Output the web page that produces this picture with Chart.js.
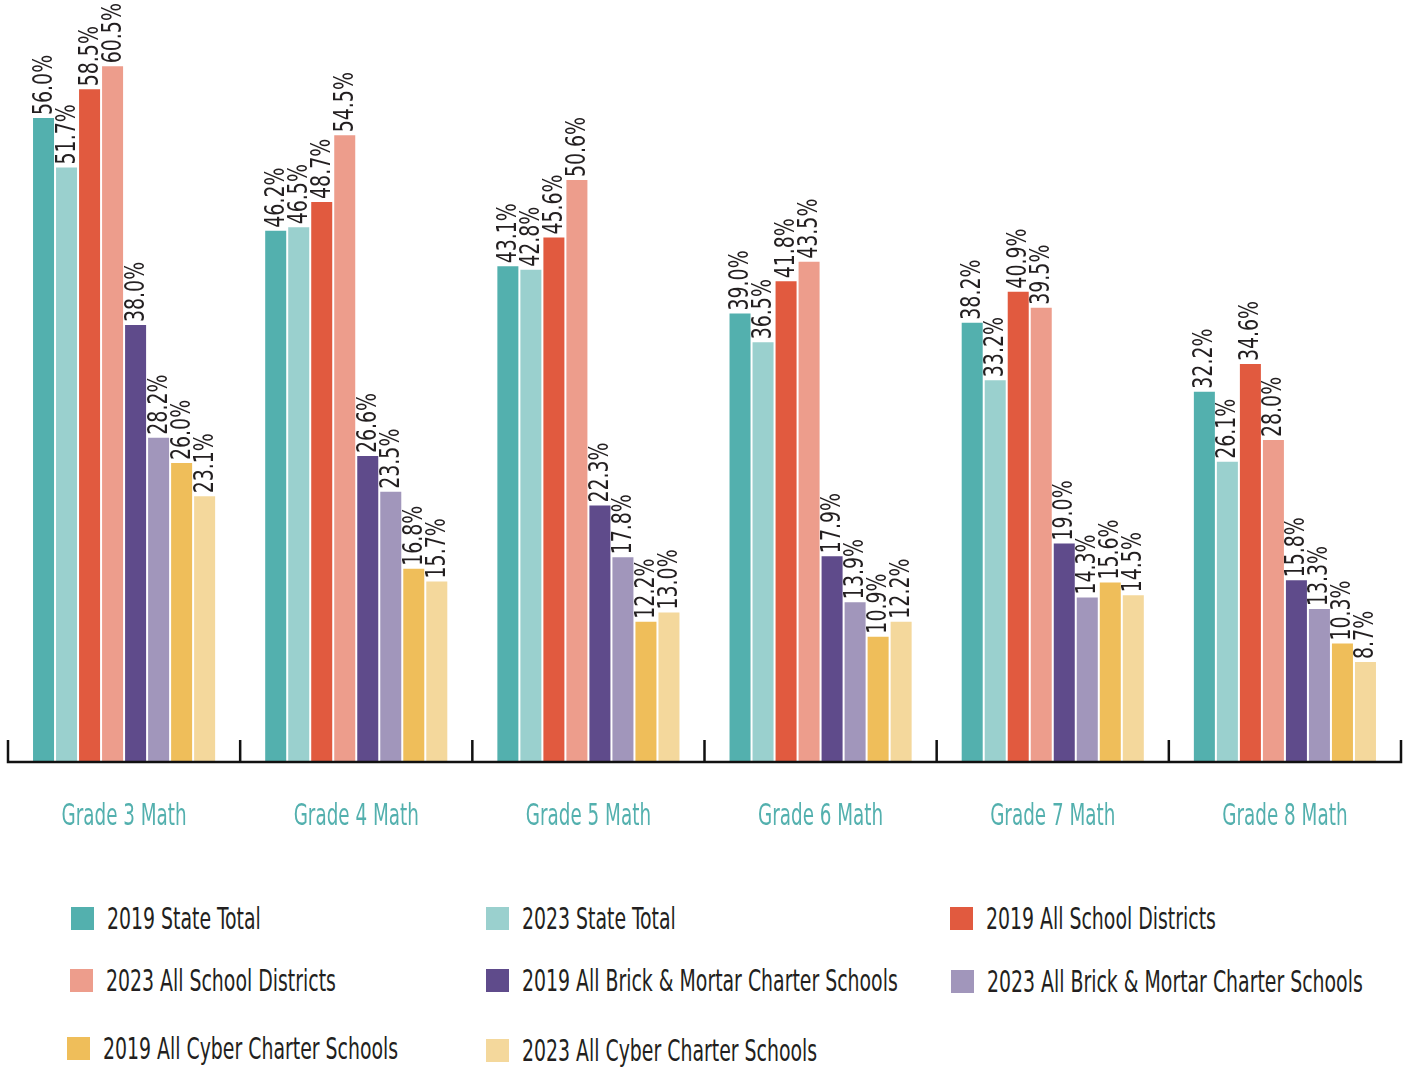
<!DOCTYPE html>
<html>
<head>
<meta charset="utf-8">
<script src="https://cdn.jsdelivr.net/npm/chart.js@4.4.1/dist/chart.umd.min.js"></script>
<style>
  html, body { margin: 0; padding: 0; background: #fff; }
  body { width: 1409px; height: 1068px; position: relative; overflow: hidden;
         font-family: 'DejaVu Sans Condensed', 'DejaVu Sans', sans-serif; }
  #wrap { position: absolute; left: 0; top: 0; width: 1409px; height: 860px; }
  .lg { position: absolute; height: 36px; }
  .lg i { position: absolute; left: 0; top: 6px; width: 23px; height: 23px; }
  .lg span { position: absolute; left: 36px; top: 0; line-height: 36px; font-size: 30px; color: #231f20;
             white-space: nowrap; transform: scaleX(0.7); transform-origin: 0 50%; }
</style>
</head>
<body>
<div id="wrap"><canvas id="c"></canvas></div>
<div id="legend"></div>
<script>
(() => {
    'use strict';

    // ===== Datos =====
    const grades = ['Grade 3 Math', 'Grade 4 Math', 'Grade 5 Math', 'Grade 6 Math', 'Grade 7 Math', 'Grade 8 Math'];

    const state2019     = [56.0, 46.2, 43.1, 39.0, 38.2, 32.2];
    const state2023     = [51.7, 46.5, 42.8, 36.5, 33.2, 26.1];
    const districts2019 = [58.5, 48.7, 45.6, 41.8, 40.9, 34.6];
    const districts2023 = [60.5, 54.5, 50.6, 43.5, 39.5, 28.0];
    const brick2019     = [38.0, 26.6, 22.3, 17.9, 19.0, 15.8];
    const brick2023     = [28.2, 23.5, 17.8, 13.9, 14.3, 13.3];
    const cyber2019     = [26.0, 16.8, 12.2, 10.9, 15.6, 10.3];
    const cyber2023     = [23.1, 15.7, 13.0, 12.2, 14.5, 8.7];

    const seriesNames = [
        '2019 State Total', '2023 State Total', '2019 All School Districts',
        '2023 All School Districts', '2019 All Brick & Mortar Charter Schools',
        '2023 All Brick & Mortar Charter Schools', '2019 All Cyber Charter Schools',
        '2023 All Cyber Charter Schools'
    ];
    const seriesData = [state2019, state2023, districts2019, districts2023, brick2019, brick2023, cyber2019, cyber2023];
    const colors = ['#53b0ae', '#9ad0ce', '#e15a3f', '#ed9d8c', '#5f4b8b', '#a196bb', '#efbe5a', '#f4d89c'];

    const FONT = "'DejaVu Sans Condensed', 'DejaVu Sans', sans-serif";

    // ===== Plugin: etiquetas verticales, eje con marcas y categorías =====
    const decorations = {
        id: 'decorations',
        afterDatasetsDraw(chart) {
            const ctx = chart.ctx;
            ctx.save();
            ctx.fillStyle = '#231f20';
            ctx.font = `27px ${FONT}`;
            ctx.textAlign = 'left';
            ctx.textBaseline = 'middle';
            chart.data.datasets.forEach((ds, di) => {
                const meta = chart.getDatasetMeta(di);
                meta.data.forEach((bar, i) => {
                    ctx.save();
                    ctx.translate(bar.x + 1, bar.y - 3);
                    ctx.rotate(-Math.PI / 2);
                    ctx.scale(0.78, 1);
                    ctx.fillText(ds.data[i].toFixed(1) + '%', 0, 0);
                    ctx.restore();
                });
            });

            // eje x con marcas hacia arriba
            const xs = chart.scales.x;
            const bottom = chart.chartArea.bottom;
            const left = xs.getPixelForValue(-0.5);
            const right = xs.getPixelForValue(grades.length - 0.5);
            ctx.strokeStyle = '#111';
            ctx.lineWidth = 2.5;
            ctx.beginPath();
            ctx.moveTo(left, bottom);
            ctx.lineTo(right, bottom);
            for (let i = 0; i <= grades.length; i++) {
                const x = xs.getPixelForValue(i - 0.5);
                ctx.moveTo(x, bottom + 1.2);
                ctx.lineTo(x, bottom - 22);
            }
            ctx.stroke();

            // nombres de categoría (condensados)
            ctx.fillStyle = '#53b0ae';
            ctx.font = `30px ${FONT}`;
            ctx.textAlign = 'center';
            ctx.textBaseline = 'middle';
            grades.forEach((g, i) => {
                ctx.save();
                ctx.translate(xs.getPixelForValue(i), bottom + 55);
                ctx.scale(0.68, 1);
                ctx.fillText(g, 0, 0);
                ctx.restore();
            });
            ctx.restore();
        }
    };

    function initChart() {
        new Chart(document.getElementById('c').getContext('2d'), {
            type: 'bar',
            data: {
                labels: grades,
                datasets: seriesData.map((d, i) => ({
                    label: seriesNames[i],
                    data: d,
                    backgroundColor: colors[i],
                    borderWidth: 0,
                    categoryPercentage: 0.793,
                    barPercentage: 0.913
                }))
            },
            options: {
                responsive: true,
                maintainAspectRatio: false,
                animation: false,
                layout: { padding: { top: 3, left: 8, right: 8, bottom: 98 } },
                plugins: { legend: { display: false }, tooltip: { enabled: false } },
                scales: {
                    x: {
                        grid: { display: false, drawTicks: false },
                        border: { display: false },
                        ticks: { display: false }
                    },
                    y: { display: false, min: 0, max: 66 }
                }
            },
            plugins: [decorations]
        });
    }

    // ===== Leyenda HTML (3 columnas) =====
    function buildLegend() {
        const pos = [
            [71, 919], [486, 919], [950, 919],
            [70, 981], [486, 981], [951, 982],
            [67, 1049], [486, 1051]
        ];
        const host = document.getElementById('legend');
        seriesNames.forEach((name, i) => {
            const el = document.createElement('div');
            el.className = 'lg';
            el.style.left = pos[i][0] + 'px';
            el.style.top = (pos[i][1] - 18) + 'px';
            const sw = document.createElement('i');
            sw.style.background = colors[i];
            const tx = document.createElement('span');
            tx.textContent = name;
            el.appendChild(sw);
            el.appendChild(tx);
            host.appendChild(el);
        });
    }

    buildLegend();
    initChart();
})();
</script>
</body>
</html>
